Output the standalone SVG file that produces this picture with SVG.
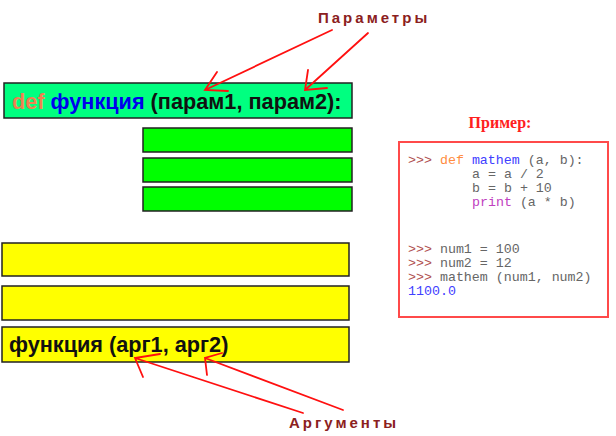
<svg xmlns="http://www.w3.org/2000/svg" width="616" height="436" viewBox="0 0 616 436">
<style>
.bar{stroke:#222;stroke-width:1.5}
.g1{fill:#00FF80}
.g2{fill:#00FF00}
.y{fill:#FFFF00}
.big{font-family:"Liberation Sans",Arial,sans-serif;font-weight:bold;font-size:21.7px;fill:#111}
.lbl{font-family:"Liberation Sans",Arial,sans-serif;font-weight:bold;font-size:15px;fill:#8B2020;letter-spacing:3px}
.code{font-family:"Liberation Mono","Courier New",monospace;font-size:13.3px;fill:#666;white-space:pre}
.pr{fill:#B05050}
.kw{fill:#FF8C40}
.fn{fill:#4040FF}
.pu{fill:#C040C0}
.arr{fill:none;stroke:#FF1010;stroke-width:1.8;stroke-linecap:round}
</style>
<rect width="616" height="436" fill="#fff"/>
<g id="def-line">
<rect class="bar g1" x="4" y="83" width="348" height="35"/>
<text class="big" x="12" y="109"><tspan fill="#F08050">def</tspan> <tspan fill="#0000EE">функция</tspan> (парам1, парам2):</text>
</g>
<g id="body1"><rect class="bar g2" x="143" y="128" width="209" height="24"/></g>
<g id="body2"><rect class="bar g2" x="143" y="158" width="209" height="24"/></g>
<g id="body3"><rect class="bar g2" x="143" y="187" width="209" height="24"/></g>
<g id="main1"><rect class="bar y" x="2" y="243" width="347" height="33"/></g>
<g id="main2"><rect class="bar y" x="2" y="286" width="347" height="34"/></g>
<g id="call-line">
<rect class="bar y" x="2" y="327" width="347" height="35"/>
<text class="big" x="9" y="352">функция (арг1, арг2)</text>
</g>
<g id="label-params"><text class="lbl" x="318" y="23">Параметры</text></g>
<g id="label-args"><text class="lbl" x="289" y="428">Аргументы</text></g>
<g id="example">
<text x="500" y="128" text-anchor="middle" font-family="Liberation Serif,'Times New Roman',serif" font-weight="bold" font-size="16" fill="#FF2020">Пример:</text>
<rect x="399" y="142" width="209" height="175" fill="#fff" stroke="#FF4A4A" stroke-width="2"/>
<text class="code" x="408" y="164"><tspan class="pr">&gt;&gt;&gt;</tspan> <tspan class="kw">def</tspan> <tspan class="fn">mathem</tspan> (a, b):</text>
<text class="code" x="472" y="178">a = a / 2</text>
<text class="code" x="472" y="192">b = b + 10</text>
<text class="code" x="472" y="206"><tspan class="pu">print</tspan> (a * b)</text>
<text class="code" x="408" y="253"><tspan class="pr">&gt;&gt;&gt;</tspan> num1 = 100</text>
<text class="code" x="408" y="267"><tspan class="pr">&gt;&gt;&gt;</tspan> num2 = 12</text>
<text class="code" x="408" y="281"><tspan class="pr">&gt;&gt;&gt;</tspan> mathem (num1, num2)</text>
<text class="code fn" x="408" y="295">1100.0</text>
</g>
<g id="connectors">
<path class="arr" d="M332,30 L205,90 M217,72 L205,90 L228,91"/>
<path class="arr" d="M368,33 L305,90 M308,70 L305,90 L327,88"/>
<path class="arr" d="M303,413 L135,358 M143,377 L135,358 L160,354"/>
<path class="arr" d="M343,410 L205,358 M207,375 L205,358 L222,353"/>
</g>
</svg>
